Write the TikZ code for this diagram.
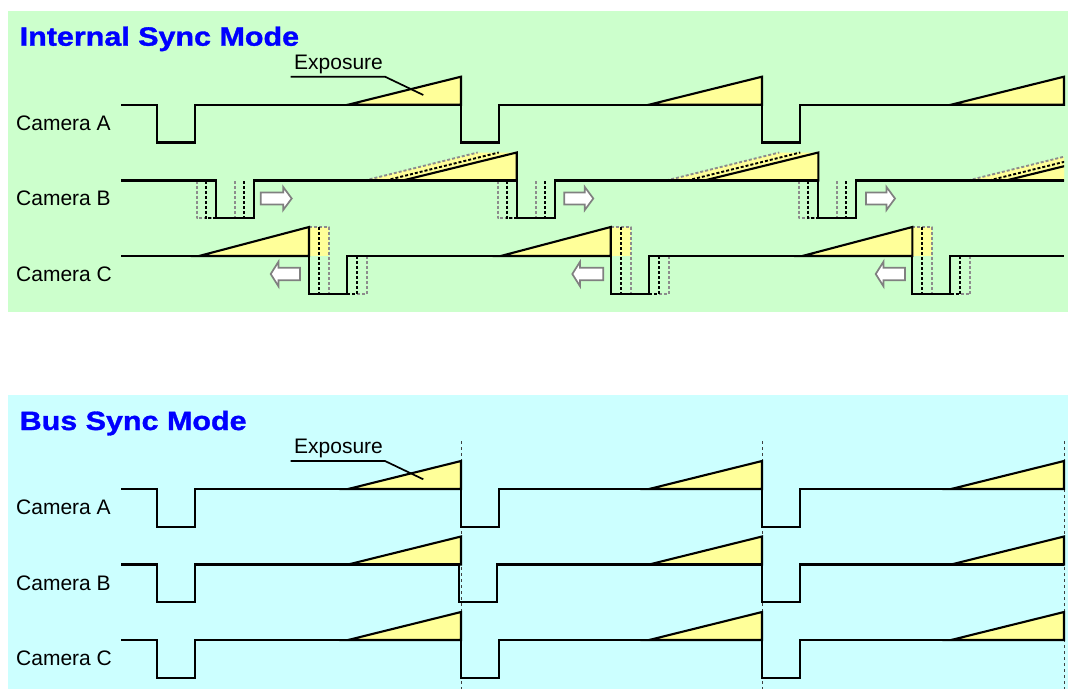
\documentclass[tikz,border=0pt]{standalone}
\usepackage{fontspec}
\setmainfont{Liberation Sans}
\newfontfamily\titlefont{Liberation Sans Bold}[FakeStretch=1.15,FakeBold=1.2]
\definecolor{bggreen}{HTML}{CCFFCC}
\definecolor{bgcyan}{HTML}{CCFFFF}
\definecolor{expyellow}{HTML}{FFFF99}
\definecolor{titleblue}{HTML}{0000FF}
\definecolor{arrowgray}{HTML}{808080}
\definecolor{dotgray}{HTML}{8C8C8C}
\newcommand\rblock[3]{\draw[harrow] (#1,{#3-6}) -- ({#2-8.5},{#3-6}) -- ({#2-8.5},{#3-11.5}) -- (#2,#3) -- ({#2-8.5},{#3+11.5}) -- ({#2-8.5},{#3+6}) -- (#1,{#3+6}) -- cycle;}
\newcommand\lblock[3]{\draw[harrow] (#1,#3) -- ({#1+7.7},{#3-12.2}) -- ({#1+7.7},{#3-6.2}) -- (#2,{#3-6.2}) -- (#2,{#3+6.2}) -- ({#1+7.7},{#3+6.2}) -- ({#1+7.7},{#3+12.2}) -- cycle;}
\begin{document}
\begin{tikzpicture}[x=1pt,y=-1pt]
\tikzset{
  sig/.style={line width=2.1pt, line join=miter, line cap=butt},
  expo/.style={fill=expyellow, draw=black, line width=2.1pt, line join=miter},
  dotk/.style={line width=1.9pt, dash pattern=on 3pt off 2pt, black},
  dotg/.style={line width=1.9pt, dash pattern=on 3pt off 2pt, dotgray, line join=round},
  harrow/.style={draw=arrowgray, fill=white, line width=1.7pt, line join=miter},
  lbl/.style={font=\fontsize{21}{25}\selectfont, anchor=base west, inner sep=0pt},
  ttl/.style={font=\titlefont\fontsize{26.5}{30}\selectfont, text=titleblue, anchor=base west, inner sep=0pt},
  leader/.style={line width=1.7pt},
  syncline/.style={line width=0.9pt, dash pattern=on 3pt off 3pt, black!75},
}
\useasboundingbox (0,0) rectangle (1068,689);
% backgrounds
\fill[bggreen] (8,11) rectangle (1068,311.5);
\fill[bgcyan] (7.5,395) rectangle (1068,689);

% ================= Internal Sync Mode =================
\node[ttl] (t1) at (19.5,45.7) {Internal Sync Mode};
\node[lbl] (ca1) at (16,130) {Camera A};
\node[lbl] (cb1) at (16,205.7) {Camera B};
\node[lbl] (cc1) at (16,281.4) {Camera C};

% Camera A
\foreach \X in {461,762,1064}{
  \draw[expo] ({\X-113},104.7) -- (\X,76.7) -- (\X,104.7) -- cycle;
}
\draw[sig] (121,104.7) -- (157,104.7) -- (157,142.5) -- (195,142.5) -- (195,104.7)
  -- (461,104.7) -- (461,142.5) -- (499,142.5) -- (499,104.7)
  -- (762,104.7) -- (762,142.5) -- (800,142.5) -- (800,104.7) -- (1064,104.7);

% Camera B (drifts right)
\foreach \X in {516.7,818.3}{
  \fill[expyellow] ({\X-152},180.5) -- ({\X-39},152.5) -- (\X,152.5) -- (\X,180.5) -- cycle;
  \draw[dotg] ({\X-152},180.5) -- ({\X-39},152.5);
  \draw[dotk] ({\X-131},180.5) -- ({\X-18},152.5);
  \draw[expo] ({\X-114},180.5) -- (\X,152.5) -- (\X,180.5) -- cycle;
}
\begin{scope}
  \clip (900,140) rectangle (1064,200);
  \fill[expyellow] (967.9,180.5) -- (1080.9,152.5) -- (1119.9,152.5) -- (1119.9,180.5) -- cycle;
  \draw[dotg] (967.9,180.5) -- (1080.9,152.5);
  \draw[dotk] (988.9,180.5) -- (1101.9,152.5);
  \draw[expo] (1005.9,180.5) -- (1119.9,152.5) -- (1119.9,180.5) -- cycle;
\end{scope}
\foreach \F in {215.7,516.7,818.3}{
  \draw[dotg] ({\F-19},180.5) -- ({\F-19},218.3) -- ({\F+19},218.3) -- ({\F+19},180.5);
  \draw[dotk] ({\F-10},180.5) -- ({\F-10},218.3) -- ({\F+28},218.3) -- ({\F+28},180.5);
}
\draw[sig] (121,180.5) -- (215.7,180.5) -- (215.7,218.3) -- (253.7,218.3) -- (253.7,180.5)
  -- (516.7,180.5) -- (516.7,218.3) -- (554.7,218.3) -- (554.7,180.5)
  -- (818.3,180.5) -- (818.3,218.3) -- (856.3,218.3) -- (856.3,180.5) -- (1064,180.5);
\rblock{260.7}{291.7}{198.5}
\rblock{564.3}{593.3}{198.5}
\rblock{866}{895}{198.5}

% Camera C (drifts left)
\foreach \F in {309,610.7,912.3}{
  \fill[expyellow] (\F,227) rectangle ({\F+20},256);
  \draw[dotg] (\F,227) -- ({\F+20},227) -- ({\F+20},293.8) -- ({\F+58},293.8) -- ({\F+58},256);
  \draw[dotk] ({\F+10},227) -- ({\F+10},293.8) -- ({\F+48},293.8) -- ({\F+48},256);
  \draw[expo] ({\F-110},256) -- (\F,227) -- (\F,256) -- cycle;
}
\draw[sig] (121,256) -- (309,256) -- (309,293.8) -- (347,293.8) -- (347,256)
  -- (610.7,256) -- (610.7,293.8) -- (648.7,293.8) -- (648.7,256)
  -- (912.3,256) -- (912.3,293.8) -- (950.3,293.8) -- (950.3,256) -- (1064,256);
\lblock{270.7}{300}{274}
\lblock{572.3}{603.3}{274}
\lblock{875.7}{905}{274}

% Exposure label
\node[lbl] (ex1) at (294,69.3) {Exposure};
\coordinate (ex1a) at (290.7,76.7);
\coordinate (ex1b) at (385,76.7);
\coordinate (ex1c) at (423.3,95);
\draw[leader] (ex1a) -- (ex1b) -- (ex1c);

% ================= Bus Sync Mode =================
\node[ttl] (t2) at (19.5,430) {Bus Sync Mode};
\node[lbl] (ca2) at (16,514.3) {Camera A};
\node[lbl] (cb2) at (16,590) {Camera B};
\node[lbl] (cc2) at (16,665.7) {Camera C};

\foreach \X in {461,762,1064}{
  \coordinate (s\X a) at (\X,441);
  \coordinate (s\X b) at (\X,689);
  \draw[syncline] (s\X a) -- (s\X b);
}
\foreach \hi in {489,564.5,640}{
  \foreach \X in {461,762,1064}{
    \draw[expo] ({\X-113},\hi) -- (\X,{\hi-28}) -- (\X,\hi) -- cycle;
  }
}
\foreach \hi in {489,640}{
  \draw[sig] (121,\hi) -- (157,\hi) -- (157,{\hi+37.8}) -- (195,{\hi+37.8}) -- (195,\hi)
    -- (461,\hi) -- (461,{\hi+37.8}) -- (499,{\hi+37.8}) -- (499,\hi)
    -- (762,\hi) -- (762,{\hi+37.8}) -- (800,{\hi+37.8}) -- (800,\hi) -- (1064,\hi);
}
\draw[sig] (121,564.5) -- (157,564.5) -- (157,602.3) -- (195,602.3) -- (195,564.5)
  -- (459,564.5) -- (459,602.3) -- (497,602.3) -- (497,564.5)
  -- (762,564.5) -- (762,602.3) -- (800,602.3) -- (800,564.5) -- (1064,564.5);

\node[lbl] (ex2) at (294,453.6) {Exposure};
\coordinate (ex2a) at (290.7,461);
\coordinate (ex2b) at (385,461);
\coordinate (ex2c) at (423.3,479.3);
\draw[leader] (ex2a) -- (ex2b) -- (ex2c);
\end{tikzpicture}
\end{document}
